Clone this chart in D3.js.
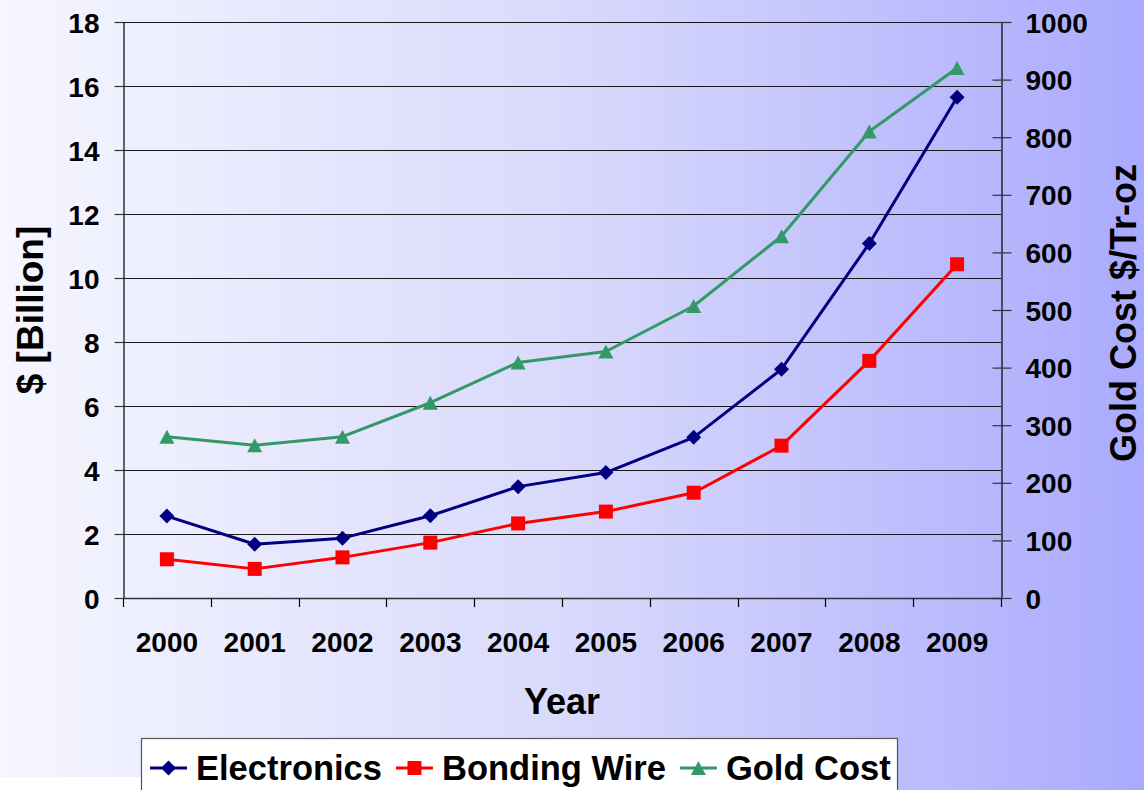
<!DOCTYPE html>
<html>
<head>
<meta charset="utf-8">
<script src="https://cdn.jsdelivr.net/npm/d3@7"></script>
<style>
  html, body { margin: 0; padding: 0; background: #fff; }
  svg { display: block; }
  text { font-family: "Liberation Sans", Arial, sans-serif; font-weight: bold; fill: #000; }
</style>
</head>
<body>
<svg id="chart" width="1144" height="790"></svg>
<script>
const years = ["2000","2001","2002","2003","2004","2005","2006","2007","2008","2009"];
const electronics = [2.56, 1.68, 1.87, 2.57, 3.48, 3.92, 5.02, 7.15, 11.08, 15.65];
const bondingWire = [1.21, 0.91, 1.27, 1.73, 2.33, 2.70, 3.29, 4.76, 7.41, 10.43];
const goldCost = [280, 265, 280, 339, 409, 428, 507, 628, 810, 920];
const leftTicks = [0, 2, 4, 6, 8, 10, 12, 14, 16, 18];
const rightTicks = [0, 100, 200, 300, 400, 500, 600, 700, 800, 900, 1000];
const seriesNames = ["Electronics", "Bonding Wire", "Gold Cost"];
const leftTitle = "$ [Billion]";
const rightTitle = "Gold Cost $/Tr-oz";
const xTitle = "Year";

const W = 1144, H = 790;
const plot = { left: 123, right: 1001, top: 22, bottom: 598 };
const svg = d3.select("#chart");

// background gradient
const defs = svg.append("defs");
const grad = defs.append("linearGradient").attr("id", "bg").attr("x1", 0).attr("x2", 1).attr("y1", 0).attr("y2", 0);
grad.append("stop").attr("offset", "0%").attr("stop-color", "#F5F6FF");
grad.append("stop").attr("offset", "50%").attr("stop-color", "#D9D9FC");
grad.append("stop").attr("offset", "100%").attr("stop-color", "#AAAAFE");
svg.append("rect").attr("x", 0).attr("y", 0).attr("width", W).attr("height", H).attr("fill", "url(#bg)");
svg.append("rect").attr("x", 0).attr("y", 777).attr("width", 300).attr("height", 13).attr("fill", "#fff");

const x = d3.scaleBand().domain(years).range([plot.left, plot.right]);
const yL = d3.scaleLinear().domain([0, 18]).range([plot.bottom, plot.top]);
const yR = d3.scaleLinear().domain([0, 1000]).range([plot.bottom, plot.top]);

// gridlines
svg.append("g").selectAll("line").data(leftTicks).join("line")
  .attr("x1", plot.left).attr("x2", plot.right)
  .attr("y1", d => Math.round(yL(d)) + 0.5).attr("y2", d => Math.round(yL(d)) + 0.5)
  .attr("stroke", "#1a1a1a").attr("stroke-width", 1.2);

// left axis
const gL = svg.append("g").attr("transform", `translate(${plot.left + 0.5},0)`)
  .call(d3.axisLeft(yL).tickValues(leftTicks).tickFormat(d3.format("d")).tickSize(9).tickSizeOuter(0).tickPadding(15));
gL.select(".domain").attr("stroke", "#000").attr("stroke-width", 1.2);
gL.selectAll(".tick line").attr("stroke", "#333").attr("stroke-width", 1.2);
gL.selectAll(".tick text").style("font-size", "28px").attr("dy", "0.36em");
gL.attr("font-family", null).attr("font-size", null);

// right axis
const gR = svg.append("g").attr("transform", `translate(${plot.right + 0.5},0)`)
  .call(d3.axisRight(yR).tickValues(rightTicks).tickFormat(d3.format("d")).tickSize(10).tickSizeOuter(0).tickPadding(14));
gR.select(".domain").attr("stroke", "#000").attr("stroke-width", 1.2);
gR.selectAll(".tick line").attr("x1", -9).attr("stroke", "#333").attr("stroke-width", 1.2);
gR.selectAll(".tick text").style("font-size", "28px").attr("dy", "0.36em");
gR.attr("font-family", null).attr("font-size", null);

// x axis
const gX = svg.append("g").attr("transform", `translate(0,${plot.bottom})`)
  .call(d3.axisBottom(x).tickSize(0).tickPadding(34));
gX.select(".domain").remove();
gX.selectAll(".tick text").style("font-size", "28px");
gX.attr("font-family", null).attr("font-size", null);
svg.append("line").attr("x1", plot.left).attr("x2", plot.right)
  .attr("y1", plot.bottom + 0.5).attr("y2", plot.bottom + 0.5).attr("stroke", "#333").attr("stroke-width", 1.6);
const bounds = years.map(d => x(d)).concat([x(years[years.length - 1]) + x.step()]);
svg.append("g").selectAll("line").data(bounds).join("line")
  .attr("x1", d => Math.round(d) + 0.5).attr("x2", d => Math.round(d) + 0.5)
  .attr("y1", plot.bottom).attr("y2", plot.bottom + 9)
  .attr("stroke", "#000").attr("stroke-width", 1.2);

// titles
svg.append("text").attr("transform", `translate(30,${(plot.top + plot.bottom) / 2}) rotate(-90)`)
  .attr("text-anchor", "middle").attr("dy", "0.36em").style("font-size", "37px").text(leftTitle);
svg.append("text").attr("transform", `translate(1123,${(plot.top + plot.bottom) / 2 + 3}) rotate(-90)`)
  .attr("text-anchor", "middle").attr("dy", "0.36em").style("font-size", "36px").text(rightTitle);
svg.append("text").attr("x", (plot.left + plot.right) / 2).attr("y", 714)
  .attr("text-anchor", "middle").style("font-size", "36px").text(xTitle);

// markers
const markerPath = {
  diamond: "M0,-7.5L7.5,0L0,7.5L-7.5,0Z",
  square: "M-7,-7H7V7H-7Z",
  triangle: "M0,-7L7.5,7H-7.5Z"
};
const series = [
  { name: seriesNames[0], values: electronics, scale: yL, color: "#000080", marker: "diamond" },
  { name: seriesNames[1], values: bondingWire, scale: yL, color: "#FF0000", marker: "square" },
  { name: seriesNames[2], values: goldCost, scale: yR, color: "#339966", marker: "triangle" }
];
const cx = d => x(d) + x.bandwidth() / 2;
series.forEach(s => {
  const line = d3.line().x((v, i) => cx(years[i])).y(v => s.scale(v));
  svg.append("path").datum(s.values).attr("d", line).attr("fill", "none")
    .attr("stroke", s.color).attr("stroke-width", 3).attr("stroke-linejoin", "round");
  svg.append("g").selectAll("path").data(s.values).join("path")
    .attr("transform", (v, i) => `translate(${cx(years[i])},${s.scale(v)})`)
    .attr("d", markerPath[s.marker]).attr("fill", s.color);
});

// legend
const lg = svg.append("g");
lg.append("rect").attr("x", 141.5).attr("y", 738.5).attr("width", 756).attr("height", 60)
  .attr("fill", "#fff").attr("stroke", "#555").attr("stroke-width", 1.2);
let lx = 150;
const ly = 768;
series.forEach((s, i) => {
  lg.append("line").attr("x1", lx).attr("x2", lx + 37).attr("y1", ly).attr("y2", ly)
    .attr("stroke", s.color).attr("stroke-width", 3);
  lg.append("path").attr("transform", `translate(${lx + 18.5},${ly})`).attr("d", markerPath[s.marker]).attr("fill", s.color);
  const t = lg.append("text").attr("x", lx + 46).attr("y", 780).style("font-size", "34.5px").text(s.name);
  lx = lx + 46 + t.node().getComputedTextLength() + 14;
});
</script>
</body>
</html>
